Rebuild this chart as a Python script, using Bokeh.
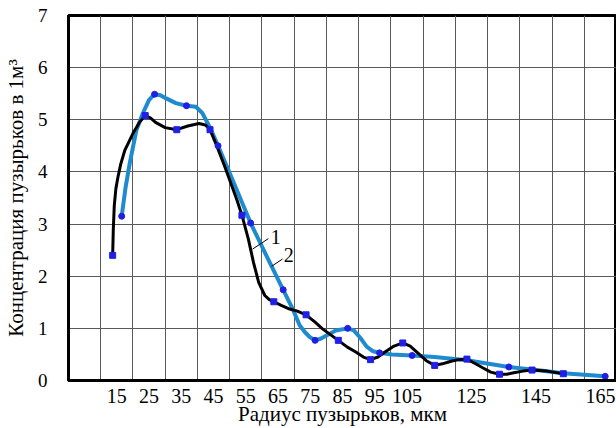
from bokeh.plotting import figure
from bokeh.models import FixedTicker
from bokeh.core.properties import value
from bokeh.embed import file_html
from bokeh.resources import INLINE

# ---- data ----
# curve 1 (black) marked points
x1_pts = [13.7, 23.8, 33.6, 43.9, 53.8, 63.7, 73.7, 83.7, 93.7, 103.7, 113.6, 123.6, 133.7, 143.8, 153.5]
y1_pts = [2.40, 5.08, 4.81, 4.81, 3.17, 1.51, 1.26, 0.77, 0.40, 0.72, 0.29, 0.41, 0.12, 0.20, 0.13]
# curve 1 traced path
x1_line = [13.7, 13.9, 14.2, 14.7, 15.4, 16.2, 17.5, 20.0, 22.0, 23.8, 25.5, 27.0, 30.0, 33.6, 37.0,
           40.5, 42.5, 43.9, 46.0, 48.5, 52.2, 53.8, 55.8, 57.4, 59.0, 60.9, 62.3, 63.7, 66.0, 68.6,
           71.0, 73.7, 76.5, 78.8, 83.7, 86.5, 89.0, 91.5, 93.7, 96.0, 98.3, 101.0, 103.7, 106.0,
           108.5, 111.0, 113.6, 116.0, 118.7, 121.0, 123.6, 126.0, 128.9, 131.0, 133.7, 136.0,
           138.1, 141.0, 143.8, 148.4, 153.5]
y1_line = [2.40, 2.90, 3.35, 3.68, 3.92, 4.15, 4.42, 4.74, 4.95, 5.08, 5.03, 4.95, 4.85, 4.81, 4.88,
           4.93, 4.90, 4.81, 4.50, 4.10, 3.47, 3.17, 2.71, 2.26, 1.88, 1.63, 1.55, 1.51, 1.44, 1.37,
           1.33, 1.26, 1.12, 0.99, 0.77, 0.64, 0.55, 0.45, 0.40, 0.45, 0.55, 0.66, 0.72, 0.66,
           0.52, 0.38, 0.29, 0.32, 0.37, 0.40, 0.41, 0.33, 0.23, 0.16, 0.12, 0.12, 0.15, 0.18,
           0.20, 0.18, 0.13]

# curve 2 (blue) marked points
x2_pts = [16.5, 26.7, 36.6, 46.4, 56.5, 66.6, 76.5, 86.6, 96.5, 106.6, 136.6, 166.5]
y2_pts = [3.15, 5.49, 5.27, 4.50, 3.02, 1.74, 0.77, 1.00, 0.53, 0.48, 0.26, 0.08]
# curve 2 traced path
x2_line = [16.5, 17.7, 19.0, 21.1, 23.1, 25.0, 26.7, 28.5, 30.3, 33.3, 36.6, 39.5, 41.5, 43.9, 46.4,
           51.5, 56.5, 61.5, 66.6, 69.5, 71.7, 73.3, 74.7, 76.5, 78.2, 79.9, 82.9, 86.6, 88.5, 90.5,
           92.5, 94.5, 96.5, 100.3, 106.6, 113.6, 123.6, 136.6, 146.5, 153.5, 166.5]
y2_line = [3.15, 3.70, 4.17, 4.81, 5.13, 5.38, 5.49, 5.47, 5.41, 5.32, 5.27, 5.25, 5.13, 4.85, 4.50,
           3.76, 3.02, 2.38, 1.74, 1.38, 1.06, 0.93, 0.84, 0.77, 0.80, 0.86, 0.96, 1.00, 0.96, 0.82,
           0.65, 0.56, 0.53, 0.50, 0.48, 0.45, 0.39, 0.26, 0.19, 0.14, 0.08]

x_tick_labels = [15, 25, 35, 45, 55, 65, 75, 85, 95, 105, 125, 145, 165]
x_grid = [10, 20, 30, 40, 50, 60, 70, 80, 90, 100, 110, 120, 130, 140, 150, 160]
y_ticks = [0, 1, 2, 3, 4, 5, 6, 7]

# curve number labels and their leader lines
lab_text = ["1", "2"]
lab_x = [64.3, 68.3]
lab_y = [2.76, 2.40]
lead_x0 = [57.1, 63.0]
lead_y0 = [2.52, 2.19]
lead_x1 = [62.0, 66.4]
lead_y1 = [2.72, 2.33]

FONT = "Liberation Serif"

p = figure(width=616, height=428, x_range=(0, 170), y_range=(0, 7),
           output_backend="svg", toolbar_location=None,
           min_border_left=63, min_border_right=0, min_border_top=15, min_border_bottom=46)
p.background_fill_color = "white"
p.border_fill_color = "white"
p.outline_line_color = "black"
p.outline_line_width = 3

# grid
p.xgrid.ticker = FixedTicker(ticks=x_grid)
p.ygrid.ticker = FixedTicker(ticks=y_ticks)
for g in (p.xgrid, p.ygrid):
    g.grid_line_color = "#5a5a5a"
    g.grid_line_width = 1

# axes
p.xaxis.ticker = FixedTicker(ticks=x_tick_labels)
p.yaxis.ticker = FixedTicker(ticks=y_ticks)
for ax in (p.xaxis, p.yaxis):
    ax.axis_line_color = "black"
    ax.axis_line_width = 3
    ax.major_tick_line_color = None
    ax.minor_tick_line_color = None
    ax.major_label_text_font = FONT
    ax.axis_label_text_font = FONT
    ax.axis_label_text_font_style = "normal"
    ax.major_label_text_color = "black"
    ax.axis_label_text_color = "black"
p.xaxis.major_label_text_font_size = "20px"
p.yaxis.major_label_text_font_size = "19px"
p.xaxis.axis_label = "Радиус пузырьков, мкм"
p.yaxis.axis_label = "Концентрация пузырьков в 1м³"
p.xaxis.axis_label_text_font_size = "21px"
p.yaxis.axis_label_text_font_size = "21px"
p.xaxis.major_label_standoff = 2
p.xaxis.axis_label_standoff = -4
p.yaxis.major_label_standoff = 15
p.yaxis.axis_label_standoff = 7

# curves
p.line(x2_line, y2_line, line_color="#1e8bcf", line_width=4, line_join="round")
p.line(x1_line, y1_line, line_color="black", line_width=3, line_join="round")
p.scatter(x1_pts, y1_pts, marker="square", size=6, fill_color="#1f1fe6", line_color="#1f1fe6")
p.scatter(x2_pts, y2_pts, marker="circle", size=6, fill_color="#1f1fe6", line_color="#1f1fe6")

# curve labels
p.segment(x0=lead_x0, y0=lead_y0, x1=lead_x1, y1=lead_y1, line_color="black", line_width=1)
p.text(x=lab_x, y=lab_y, text=lab_text, text_font=value(FONT), text_font_size="20px",
       text_align="center", text_baseline="middle", text_color="black")

open("out.html", "w").write(file_html(p, INLINE))
